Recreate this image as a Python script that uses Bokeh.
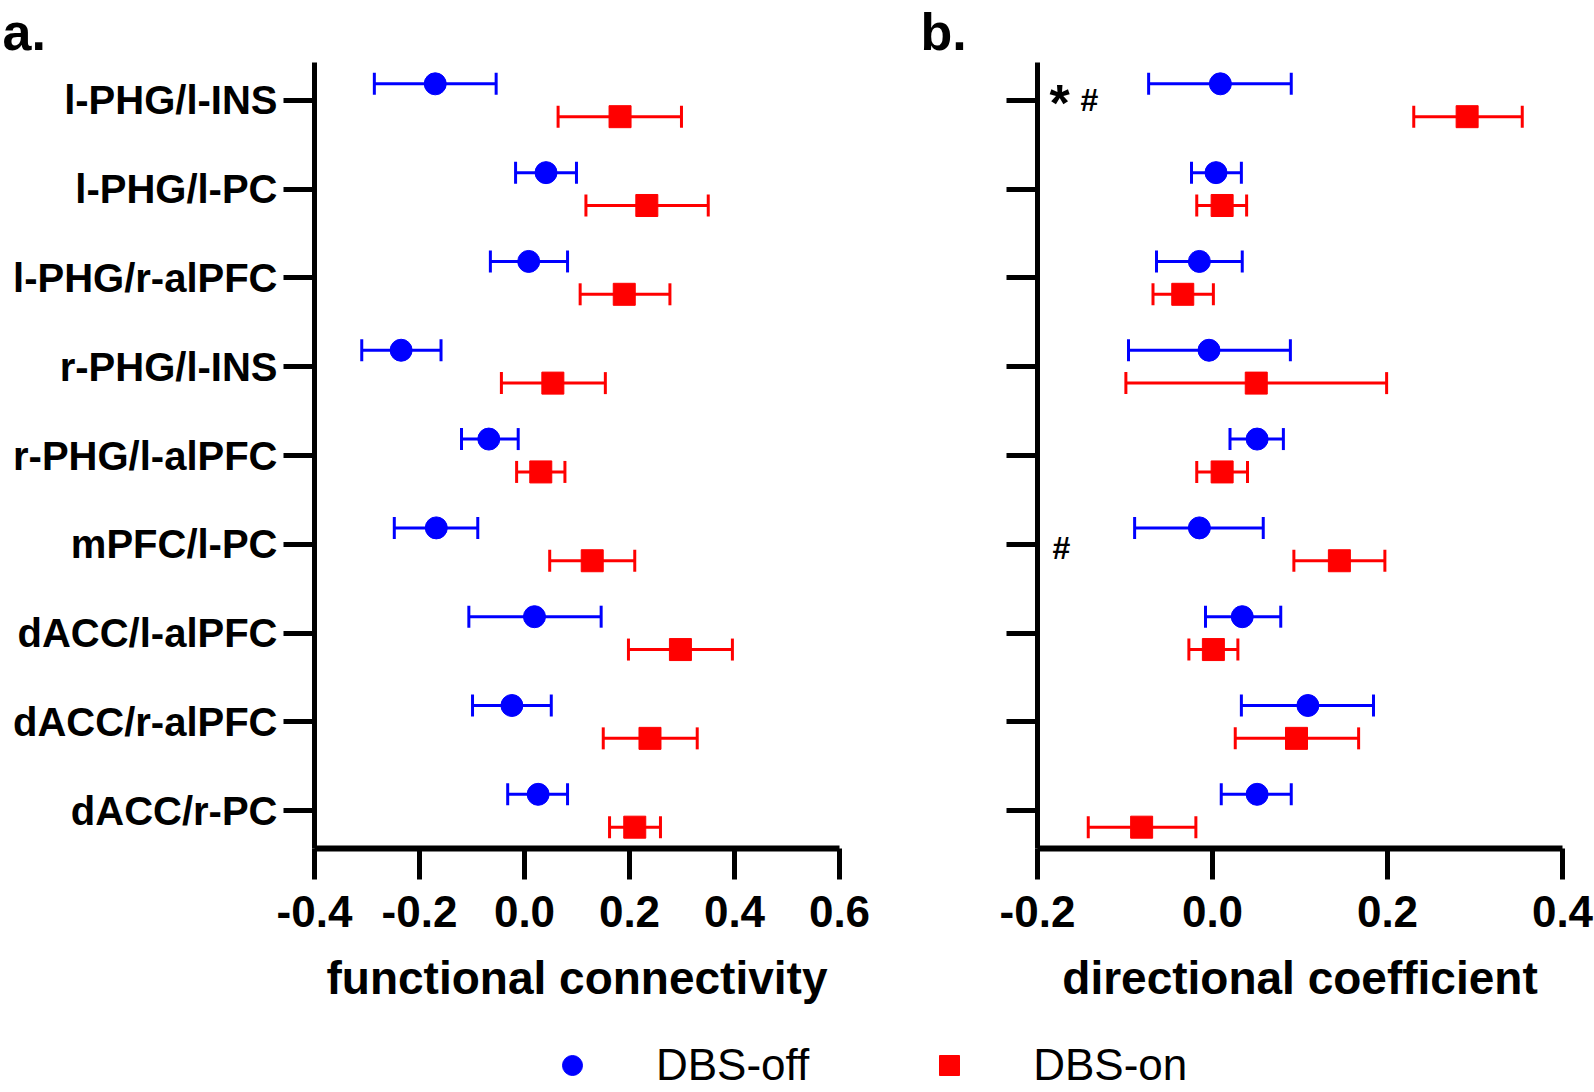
from bokeh.plotting import figure
from bokeh.models import (Range1d, FixedTicker, Whisker, TeeHead, ColumnDataSource,
                          Legend, LegendItem, PrintfTickFormatter, Title)
from bokeh.layouts import column, row
from bokeh.embed import file_html
from bokeh.resources import INLINE
from bokeh.core.properties import value

# ---------------- data ----------------
categories = ["l-PHG/l-INS", "l-PHG/l-PC", "l-PHG/r-alPFC", "r-PHG/l-INS", "r-PHG/l-alPFC",
              "mPFC/l-PC", "dACC/l-alPFC", "dACC/r-alPFC", "dACC/r-PC"]

# panel a: functional connectivity
fc_off_mean = [-0.170, 0.041, 0.008, -0.235, -0.068, -0.168, 0.019, -0.024, 0.026]
fc_off_lo   = [-0.286, -0.017, -0.065, -0.310, -0.120, -0.248, -0.106, -0.099, -0.032]
fc_off_hi   = [-0.054, 0.099, 0.082, -0.159, -0.012, -0.089, 0.146, 0.051, 0.082]
fc_on_mean  = [0.182, 0.233, 0.190, 0.054, 0.031, 0.129, 0.297, 0.239, 0.210]
fc_on_lo    = [0.064, 0.117, 0.106, -0.044, -0.015, 0.048, 0.198, 0.150, 0.162]
fc_on_hi    = [0.299, 0.350, 0.277, 0.154, 0.077, 0.210, 0.396, 0.329, 0.259]

# panel b: directional coefficient
dc_off_mean = [0.009, 0.004, -0.015, -0.004, 0.051, -0.015, 0.034, 0.109, 0.051]
dc_off_lo   = [-0.073, -0.024, -0.064, -0.096, 0.020, -0.089, -0.008, 0.033, 0.010]
dc_off_hi   = [0.090, 0.033, 0.034, 0.089, 0.081, 0.058, 0.078, 0.184, 0.090]
dc_on_mean  = [0.291, 0.011, -0.034, 0.050, 0.011, 0.145, 0.001, 0.096, -0.081]
dc_on_lo    = [0.230, -0.018, -0.068, -0.099, -0.018, 0.093, -0.027, 0.026, -0.142]
dc_on_hi    = [0.354, 0.039, 0.001, 0.199, 0.040, 0.197, 0.029, 0.167, -0.019]

fc_ticks = [-0.4, -0.2, 0.0, 0.2, 0.4, 0.6]
dc_ticks = [-0.2, 0.0, 0.2, 0.4]

star_rows = ["l-PHG/l-INS"]
hash_rows = ["l-PHG/l-INS", "mPFC/l-PC"]

series_names = ["DBS-off", "DBS-on"]
BLUE = "#0000FF"
RED = "#FF0000"
FONT = "Liberation Sans"

n = len(categories)
ypos = [n - 1 - i for i in range(n)]
DODGE = 0.185
NAN = float("nan")


def make_panel(width, border_left, frame_width, xr, ticks, xlabel, letter, letter_dx,
               off, on, show_labels):
    p = figure(width=width, height=1004, frame_width=frame_width, frame_height=786,
               min_border_left=border_left, min_border_top=62, min_border_bottom=156,
               min_border_right=width - border_left - frame_width,
               x_range=Range1d(*xr), y_range=Range1d(-0.425, n - 1 + 0.425),
               output_backend="svg", toolbar_location=None)
    p.outline_line_color = None
    p.xgrid.visible = False
    p.ygrid.visible = False
    p.background_fill_color = "white"

    p.title = Title(text=letter, align="left", offset=letter_dx, standoff=0,
                    text_font=FONT, text_font_style="bold", text_font_size="52px",
                    text_color="black", vertical_align="top")

    for (mean, lo, hi), color, sign, marker in ((off, BLUE, 1, "circle"), (on, RED, -1, "square")):
        src = ColumnDataSource(dict(x=mean, lo=lo, hi=hi,
                                    y=[yy + sign * DODGE for yy in ypos]))
        w = Whisker(source=src, base="y", lower="lo", upper="hi", dimension="width",
                    line_color=color, line_width=3,
                    upper_head=TeeHead(size=22, line_color=color, line_width=3),
                    lower_head=TeeHead(size=22, line_color=color, line_width=3))
        p.add_layout(w)
        p.scatter("x", "y", source=src, marker=marker, size=22, fill_color=color,
                  line_color=color)

    xa = p.xaxis[0]
    xa.ticker = FixedTicker(ticks=ticks)
    xa.formatter = PrintfTickFormatter(format="%.1f")
    xa.axis_line_width = 6
    xa.major_tick_line_width = 5
    xa.major_tick_out = 31
    xa.major_tick_in = 0
    xa.minor_tick_line_color = None
    xa.major_label_text_font = FONT
    xa.major_label_text_font_style = "bold"
    xa.major_label_text_font_size = "44px"
    xa.major_label_text_color = "black"
    xa.major_label_standoff = 16
    xa.axis_label = xlabel
    xa.axis_label_text_font = FONT
    xa.axis_label_text_font_style = "bold"
    xa.axis_label_text_font_size = "46px"
    xa.axis_label_text_color = "black"
    xa.axis_label_standoff = 22

    ya = p.yaxis[0]
    ya.ticker = FixedTicker(ticks=ypos)
    if show_labels:
        ya.major_label_overrides = {yy: c for yy, c in zip(ypos, categories)}
    else:
        ya.major_label_overrides = {yy: "" for yy in ypos}
    ya.axis_line_width = 5
    ya.major_tick_line_width = 5
    ya.major_tick_out = 31
    ya.major_tick_in = 0
    ya.minor_tick_line_color = None
    ya.major_label_text_font = FONT
    ya.major_label_text_font_style = "bold"
    ya.major_label_text_font_size = "40px"
    ya.major_label_text_color = "black"
    ya.major_label_standoff = 6
    return p


pA = make_panel(890, 314, 525, (-0.4, 0.6), fc_ticks, "functional connectivity", "a.", -312,
                (fc_off_mean, fc_off_lo, fc_off_hi), (fc_on_mean, fc_on_lo, fc_on_hi), True)
pB = make_panel(704, 147, 525, (-0.2, 0.4), dc_ticks, "directional coefficient", "b.", -117,
                (dc_off_mean, dc_off_lo, dc_off_hi), (dc_on_mean, dc_on_lo, dc_on_hi), False)

# significance marks in panel b
star_src = ColumnDataSource(dict(x=[-0.2] * len(star_rows),
                                 y=[ypos[categories.index(c)] for c in star_rows],
                                 t=["*"] * len(star_rows)))
hash_src = ColumnDataSource(dict(x=[-0.2] * len(hash_rows),
                                 y=[ypos[categories.index(c)] for c in hash_rows],
                                 t=["#"] * len(hash_rows),
                                 dx=[43 if c in star_rows else 15 for c in hash_rows],
                                 dy=[0 if c in star_rows else 4 for c in hash_rows]))
pB.text("x", "y", text="t", source=star_src, x_offset=12, y_offset=3,
        text_font=value(FONT), text_font_style="bold", text_font_size="52px",
        text_baseline="alphabetic", text_color="black")
pB.text("x", "y", text="t", source=hash_src, x_offset="dx", y_offset="dy",
        text_font=value(FONT), text_font_style="bold", text_font_size="32px",
        text_baseline="alphabetic", text_color="black")

# legend strip
pL = figure(width=1594, height=84, min_border=0, x_range=Range1d(0, 1), y_range=Range1d(0, 1),
            x_axis_type=None, y_axis_type=None, output_backend="svg", toolbar_location=None)
pL.outline_line_color = None
pL.xgrid.visible = False
pL.ygrid.visible = False
r_off = pL.scatter(x=[NAN], y=[NAN], marker="circle", fill_color=BLUE, line_color=BLUE)
r_on = pL.scatter(x=[NAN], y=[NAN], marker="square", fill_color=RED, line_color=RED)
legend = Legend(items=[LegendItem(label=series_names[0], renderers=[r_off]),
                       LegendItem(label=series_names[1], renderers=[r_on])],
                orientation="horizontal", location=(547, 0),
                glyph_width=50, glyph_height=50, label_standoff=59, spacing=115,
                padding=0, margin=0, border_line_alpha=0, background_fill_alpha=0,
                label_text_font=FONT, label_text_font_size="44px", label_text_color="black")
pL.add_layout(legend)

layout = column(row(pA, pB), pL)
open("out.html", "w").write(file_html(layout, INLINE))
